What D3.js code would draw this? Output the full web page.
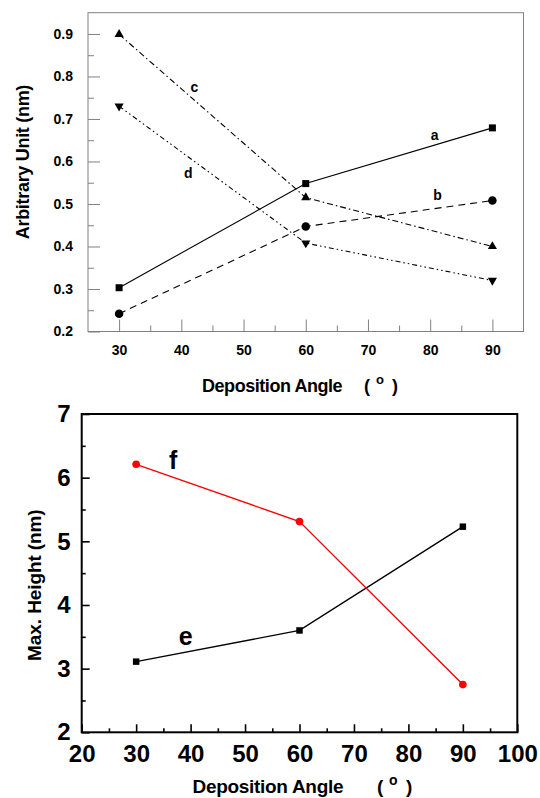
<!DOCTYPE html>
<html><head><meta charset="utf-8">
<script src="https://cdn.jsdelivr.net/npm/d3@7"></script>
<style>
body{margin:0;background:#fff;}
svg{display:block;}
text{font-family:Arial,"Liberation Sans",sans-serif;font-weight:bold;}
</style></head>
<body>
<script>
// ---------- DATA ----------
const angles = [30, 60, 90];
const seriesA = [0.303, 0.548, 0.679];
const seriesB = [0.242, 0.447, 0.508];
const seriesC = [0.899, 0.515, 0.400];
const seriesD = [0.730, 0.408, 0.320];
const seriesE = [3.11, 3.60, 5.23];
const seriesF = [6.21, 5.31, 2.75];
const topXTicks = [30, 40, 50, 60, 70, 80, 90];
const topXMinor = [35, 45, 55, 65, 75, 85];
const topYTicks = [0.2, 0.3, 0.4, 0.5, 0.6, 0.7, 0.8, 0.9];
const topYMinor = [0.25, 0.35, 0.45, 0.55, 0.65, 0.75, 0.85];
const botXTicks = [20, 30, 40, 50, 60, 70, 80, 90, 100];
const botXMinor = [25, 35, 45, 55, 65, 75, 85, 95];
const botYTicks = [2, 3, 4, 5, 6, 7];
const botYMinor = [2.5, 3.5, 4.5, 5.5, 6.5];
const topLabels = ["a", "b", "c", "d"];
const botLabels = ["e", "f"];

const W = 540, H = 798;
const svg = d3.select("body").append("svg").attr("width", W).attr("height", H);

// ---------- TOP CHART ----------
const tx = d3.scaleLinear().domain([25, 95]).range([88, 523.5]);
const ty = d3.scaleLinear().domain([0.2, 0.95]).range([331.5, 12.7]);
const gray = "#808080";
const topG = svg.append("g");

function styleAxis(g, color, fs){
  g.select(".domain").remove();
  g.selectAll(".tick line").attr("stroke", color);
  g.selectAll(".tick text").attr("fill", "#000").style("font-size", fs + "px").attr("font-family", null);
}
topG.append("g").attr("transform", `translate(0,${ty(0.2)})`)
  .call(d3.axisBottom(tx).tickValues(topXTicks).tickSize(-12).tickPadding(13.5).tickFormat(d3.format("d")))
  .call(g => styleAxis(g, gray, 14));
topG.append("g").attr("transform", `translate(0,${ty(0.2)})`)
  .call(d3.axisBottom(tx).tickValues(topXMinor).tickSize(-6).tickFormat(""))
  .call(g => styleAxis(g, gray, 14));
topG.append("g").attr("transform", `translate(${tx(25)},0)`)
  .call(d3.axisLeft(ty).tickValues(topYTicks).tickSize(-12).tickPadding(15).tickFormat(d3.format(".1f")))
  .call(g => styleAxis(g, gray, 14));
topG.append("g").attr("transform", `translate(${tx(25)},0)`)
  .call(d3.axisLeft(ty).tickValues(topYMinor).tickSize(-6).tickFormat(""))
  .call(g => styleAxis(g, gray, 14));
topG.append("rect").attr("x", tx(25)).attr("y", ty(0.95))
  .attr("width", tx(95) - tx(25)).attr("height", ty(0.2) - ty(0.95))
  .attr("fill", "none").attr("stroke", gray).attr("stroke-width", 1);

const topSeries = [
  {vals: seriesA, dash: null, sym: d3.symbolSquare, size: 49, rot: 0},
  {vals: seriesB, dash: "7,5", sym: d3.symbolCircle, size: 57, rot: 0},
  {vals: seriesC, dash: "6,3,1.5,3", sym: d3.symbolTriangle, size: 36, rot: 0},
  {vals: seriesD, dash: "5,3,1.5,3,1.5,3", sym: d3.symbolTriangle, size: 36, rot: 180}
];
const tline = d3.line().x(d => tx(d[0])).y(d => ty(d[1]));
topSeries.forEach(s => {
  const pts = angles.map((a, i) => [a, s.vals[i]]);
  topG.append("path").attr("d", tline(pts)).attr("fill", "none")
    .attr("stroke", "#000").attr("stroke-width", 1.1)
    .attr("stroke-dasharray", s.dash);
  topG.selectAll(null).data(pts).enter().append("path")
    .attr("d", d3.symbol().type(s.sym).size(s.size))
    .attr("transform", d => `translate(${tx(d[0])},${ty(d[1])}) rotate(${s.rot})`)
    .attr("fill", "#000");
});
const topLabelPos = [[80.7, 0.661], [81.2, 0.522], [42.1, 0.775], [41.1, 0.572]];
topLabels.forEach((t, i) => {
  topG.append("text").attr("x", tx(topLabelPos[i][0])).attr("y", ty(topLabelPos[i][1]))
    .attr("text-anchor", "middle").attr("dy", "0.35em").style("font-size", "14px").text(t);
});
topG.append("text").attr("transform", `translate(29,${(ty(0.2) + ty(0.95)) / 2 - 10}) rotate(-90)`)
  .attr("text-anchor", "middle").style("font-size", "18px").style("letter-spacing", "-0.3px")
  .text("Arbitrary Unit (nm)");
topG.append("text").attr("x", 202).attr("y", 391.5).style("font-size", "18px")
  .style("letter-spacing", "-0.45px").text("Deposition Angle");
topG.append("text").attr("x", 364).attr("y", 391.5).style("font-size", "18px").text("(");
topG.append("text").attr("x", 376).attr("y", 384).style("font-size", "13px").text("o");
topG.append("text").attr("x", 392).attr("y", 391.5).style("font-size", "18px").text(")");

// ---------- BOTTOM CHART ----------
const bx = d3.scaleLinear().domain([20, 100]).range([81.7, 517.3]);
const by = d3.scaleLinear().domain([2, 7]).range([732.3, 414]);
const botG = svg.append("g");
function blackTicks(g){ g.selectAll(".tick line").attr("stroke-width", 1.6); }
botG.append("g").attr("transform", `translate(0,${by(2)})`)
  .call(d3.axisBottom(bx).tickValues(botXTicks).tickSize(-8).tickPadding(12.5).tickFormat(d3.format("d")))
  .call(g => styleAxis(g, "#000", 24)).call(blackTicks);
botG.append("g").attr("transform", `translate(0,${by(2)})`)
  .call(d3.axisBottom(bx).tickValues(botXMinor).tickSize(-4).tickFormat(""))
  .call(g => styleAxis(g, "#000", 24)).call(blackTicks);
botG.append("g").attr("transform", `translate(${bx(20)},0)`)
  .call(d3.axisLeft(by).tickValues(botYTicks).tickSize(-8).tickPadding(11).tickFormat(d3.format("d")))
  .call(g => styleAxis(g, "#000", 24)).call(blackTicks);
botG.append("g").attr("transform", `translate(${bx(20)},0)`)
  .call(d3.axisLeft(by).tickValues(botYMinor).tickSize(-4).tickFormat(""))
  .call(g => styleAxis(g, "#000", 24)).call(blackTicks);
botG.append("rect").attr("x", bx(20)).attr("y", by(7))
  .attr("width", bx(100) - bx(20)).attr("height", by(2) - by(7))
  .attr("fill", "none").attr("stroke", "#000").attr("stroke-width", 2);

const bline = d3.line().x(d => bx(d[0])).y(d => by(d[1]));
const botSeries = [
  {vals: seriesE, color: "#000", sym: d3.symbolSquare, size: 42},
  {vals: seriesF, color: "#ff0000", sym: d3.symbolCircle, size: 46}
];
botSeries.forEach(s => {
  const pts = angles.map((a, i) => [a, s.vals[i]]);
  botG.append("path").attr("d", bline(pts)).attr("fill", "none")
    .attr("stroke", s.color).attr("stroke-width", 1.4);
  botG.selectAll(null).data(pts).enter().append("path")
    .attr("d", d3.symbol().type(s.sym).size(s.size))
    .attr("transform", d => `translate(${bx(d[0])},${by(d[1])})`)
    .attr("fill", s.color);
});
const botLabelPos = [[39.1, 3.51], [36.8, 6.27]];
botLabels.forEach((t, i) => {
  botG.append("text").attr("x", bx(botLabelPos[i][0])).attr("y", by(botLabelPos[i][1]))
    .attr("text-anchor", "middle").attr("dy", "0.35em").style("font-size", "25px").text(t);
});
botG.append("text").attr("transform", `translate(41,${(by(2) + by(7)) / 2 + 12}) rotate(-90)`)
  .attr("text-anchor", "middle").style("font-size", "19px").style("letter-spacing", "-0.1px")
  .text("Max. Height (nm)");
botG.append("text").attr("x", 192.5).attr("y", 793).style("font-size", "19px")
  .style("letter-spacing", "-0.3px").text("Deposition Angle");
botG.append("text").attr("x", 377).attr("y", 793).style("font-size", "19px").text("(");
botG.append("text").attr("x", 389).attr("y", 785).style("font-size", "14px").text("o");
botG.append("text").attr("x", 406).attr("y", 793).style("font-size", "19px").text(")");
</script>
</body></html>
